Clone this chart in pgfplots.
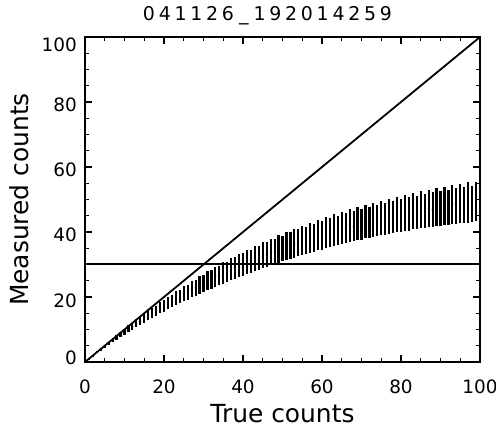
\documentclass[border=0pt]{standalone}
\usepackage{fontspec}
\setmainfont{DejaVu Sans}
\usepackage{pgfplots}
\pgfplotsset{compat=1.18}
\usepackage{pgfplotstable}
\pgfplotstableread{
x y e
1 0.99 0.10
2 1.95 0.19
3 2.96 0.28
4 3.86 0.38
5 4.85 0.46
6 5.72 0.55
7 6.70 0.66
8 7.52 0.72
9 8.47 0.85
10 9.28 0.92
11 10.22 1.05
12 10.96 1.08
13 11.90 1.22
14 12.62 1.25
15 13.55 1.42
16 14.22 1.45
17 15.14 1.60
18 15.78 1.58
19 16.70 1.75
20 17.28 1.80
21 18.15 1.95
22 18.74 1.92
23 19.62 2.15
24 20.15 2.12
25 21.05 2.35
26 21.52 2.30
27 22.40 2.55
28 22.85 2.48
29 23.72 2.70
30 24.15 2.68
31 25.02 2.95
32 25.38 2.85
33 26.25 3.10
34 26.58 3.00
35 27.45 3.30
36 27.75 3.15
37 28.62 3.45
38 28.88 3.30
39 29.75 3.60
40 29.95 3.50
41 30.80 3.70
42 31.05 3.55
43 31.85 3.85
44 32.05 3.70
45 32.90 4.00
46 33.00 3.80
47 33.85 4.10
48 34.00 3.95
49 34.80 4.25
50 34.90 3.95
51 35.70 4.30
52 35.80 4.05
53 36.55 4.40
54 36.65 4.15
55 37.45 4.50
56 37.45 4.20
57 38.25 4.60
58 38.25 4.30
59 39.05 4.70
60 39.00 4.40
61 39.80 4.75
62 39.75 4.45
63 40.55 4.85
64 40.45 4.55
65 41.30 4.95
66 41.10 4.60
67 41.95 5.00
68 41.75 4.65
69 42.60 5.10
70 42.40 4.75
71 43.20 5.15
72 42.95 4.80
73 43.80 5.25
74 43.55 4.90
75 44.35 5.30
76 44.10 4.95
77 44.90 5.40
78 44.60 5.00
79 45.40 5.45
80 45.10 5.05
81 45.90 5.55
82 45.55 5.10
83 46.40 5.60
84 46.00 5.15
85 46.85 5.70
86 46.45 5.20
87 47.30 5.75
88 46.90 5.30
89 47.70 5.85
90 47.25 5.35
91 48.05 5.90
92 47.60 5.40
93 48.45 6.00
94 47.95 5.45
95 48.80 6.05
96 48.25 5.50
97 49.15 6.30
98 48.55 5.60
99 49.40 6.10
100 49.00 5.80
}\meas
\pgfplotstableread{
x y
0 0
100 100
}\diag
\pgfplotstableread{
x y
0 30
100 30
}\level
\newcommand\tc[1]{\makebox[15.8bp]{#1}}
\begin{document}
\begin{tikzpicture}
\begin{axis}[
  scale only axis, width=395bp, height=325bp,
  xmin=0, xmax=100, ymin=0, ymax=100,
  xtick={0,20,40,60,80,100}, ytick={0,20,40,60,80,100},
  yticklabels={\raisebox{8bp}{0},20,40,60,80,\raisebox{-4.5bp}{100}},
  minor tick num=3,
  tick align=inside,
  major tick length=7bp, minor tick length=4bp,
  axis line style={line width=1.8bp},
  every tick/.style={black, line width=1.4bp},
  /pgf/number format/assume math mode=true,
  tick label style={font=\fontsize{18.5}{20}\selectfont},
  xticklabel style={anchor=base, yshift=-31bp, inner sep=0pt},
  yticklabel style={anchor=base east, yshift=-10bp, xshift=-8bp, inner sep=0pt},
  xlabel={True counts}, ylabel={Measured counts},
  label style={font=\fontsize{25}{28}\selectfont},
  xlabel style={at={(axis description cs:0.5,0)}, anchor=base, yshift=-60bp, inner sep=0pt},
  ylabel style={at={(axis description cs:0,0.5)}, anchor=base, yshift=56bp, inner sep=0pt},
  every axis title shift=0pt,
  title={\tc{0}\tc{4}\tc{1}\tc{1}\tc{2}\tc{6}\tc{\_}\tc{1}\tc{9}\tc{2}\tc{0}\tc{1}\tc{4}\tc{2}\tc{5}\tc{9}},
  title style={font=\fontsize{19}{20}\selectfont, at={(axis description cs:0.5,1)}, anchor=base, yshift=16bp, xshift=-15bp, inner sep=0pt},
]
\addplot[black, line width=1.8bp] table {\diag};
\addplot[black, line width=2bp] table {\level};
\addplot[black, only marks, mark=*, mark size=0.7bp,
  /pgfplots/error bars/error bar style={line width=2.2bp, black},
  error bars/.cd, y dir=both, y explicit,
  error mark=none]
  table[x=x, y=y, y error=e] {\meas};
\end{axis}
\pgfresetboundingbox
\path[use as bounding box] ([shift={(-85bp,-65bp)}]current axis.south west) rectangle ([shift={(16bp,37bp)}]current axis.north east);
\end{tikzpicture}
\end{document}
